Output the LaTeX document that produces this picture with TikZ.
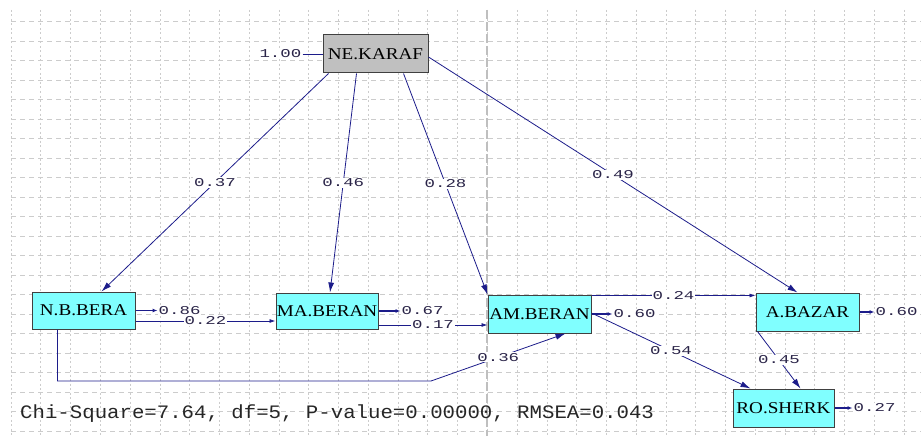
\documentclass[tikz,border=0pt]{standalone}
\usepackage{fontspec}
\usetikzlibrary{arrows.meta,positioning}
\newfontfamily\boxfont[FakeStretch=1.16]{Liberation Serif}
\newfontfamily\numfont[FakeStretch=1.45]{Liberation Mono}
\newfontfamily\chifont[FakeStretch=1.09]{Liberation Mono}
\definecolor{pathblue}{HTML}{1C1C8A}
\definecolor{lblcol}{HTML}{2A2448}
\definecolor{boxcyan}{HTML}{80FFFF}
\definecolor{boxgray}{HTML}{C0C0C0}

\begin{document}
\begin{tikzpicture}[x=1pt, y=-1pt,
	var/.style={draw=black!75, line width=1pt, fill=boxcyan, minimum width=103pt, minimum height=37pt, inner sep=0pt, font=\boxfont\fontsize{16.5}{18}\selectfont},
	lbl/.style={fill=white, inner sep=1pt, text=lblcol, font=\numfont\fontsize{12}{12}\selectfont},
	pth/.style={draw=pathblue, line width=0.8pt},
	big/.style={pth, -{Latex[length=10pt, width=6pt]}},
	small/.style={pth, -{Latex[length=6pt, width=4pt]}},
	err/.style={pth, line width=1.4pt, -{Latex[length=5pt, width=4pt]}},
	gridv/.style={draw=black!20, line width=0.6pt, dash pattern=on 2pt off 2.5pt},
	gridh/.style={draw=black!20, line width=0.6pt, dash pattern=on 5pt off 4pt}]
	\useasboundingbox (0,0) rectangle (921,436);
	\foreach \i in {0,...,30}
		\draw[gridv] ({11+29.77*\i},10) -- ({11+29.77*\i},436);
	\foreach \j in {0,...,21}
		\draw[gridh] (11,{21.7+19.49*\j}) -- (921,{21.7+19.49*\j});
	\draw[draw=black!25, line width=1.4pt, dash pattern=on 9pt off 3pt] (487,10) -- (487,436);

	\node[var, fill=boxgray, minimum width=105pt, minimum height=38pt] (nek) at (375.5,54) {NE.KARAF};
	\node[var] (nb) at (83.5,310.5) {N.B.BERA};
	\node[var, minimum width=102pt, minimum height=36pt] (ma) at (327,311) {MA.BERAN};
	\node[var, minimum height=38pt] (am) at (539.5,314) {AM.BERAN};
	\node[var, minimum height=38pt] (ab) at (807.5,312) {A.BAZAR};
	\node[var, minimum width=101pt, minimum height=38pt] (ro) at (783.5,408) {RO.SHERK};

	\draw[big] ([xshift=6pt]nek.south west) -- node[lbl] {0.37} ([xshift=18pt]nb.north);
	\draw[big] ([xshift=34pt]nek.south west) -- node[lbl] {0.46} ([xshift=3pt]ma.north);
	\draw[big] ([xshift=-25pt]nek.south east) -- node[lbl] {0.28} (am.north west);
	\draw[big] ([yshift=-3pt]nek.east) -- node[lbl] {0.49} ([xshift=-10pt]ab.north);

	\draw[small] ([yshift=-10.5pt]nb.east) -- node[lbl] {0.22} ([yshift=-10.5pt]nb.east -| ma.west);
	\draw[small] ([yshift=-14pt]ma.east) -- node[lbl] {0.17} ([yshift=-14pt]ma.east -| am.west);
	\coordinate (bend) at (431,381);
	\draw[big] ([xshift=-26pt]nb.south) |- (bend) -- node[lbl] {0.36} ([xshift=26pt]am.south);
	\draw[small] ([yshift=-1pt]am.north east) -- node[lbl] {0.24} ([yshift=-1pt]am.north east -| ab.west);
	\draw[big] ([yshift=1pt]am.east) -- node[lbl] {0.54} ([xshift=18pt]ro.north west);
	\draw[big] ([xshift=2pt]ab.south west) -- node[lbl] {0.45} ([xshift=17pt]ro.north);

	\node[lbl, left=20pt of nek] (enek) {1.00};
	\draw[pth] (enek) -- (nek);
	\node[lbl, right=22pt of nb] (enb) {0.86};
	\draw[err] (nb) -- (enb);
	\node[lbl, right=22pt of ma] (ema) {0.67};
	\draw[err] (ma) -- (ema);
	\node[lbl, right=21pt of am] (eam) {0.60};
	\draw[err] (am) -- (eam);
	\node[lbl, right=15pt of ab] (eab) {0.60};
	\draw[err] (ab) -- (eab);
	\node[lbl, right=18pt of ro] (ero) {0.27};
	\draw[err] (ro) -- (ero);

	\node[anchor=west, inner sep=0pt, text=black!85, font=\chifont\fontsize{19}{19}\selectfont] (chi) at (20,414) {Chi-Square=7.64, df=5, P-value=0.00000, RMSEA=0.043};
\end{tikzpicture}
\end{document}
